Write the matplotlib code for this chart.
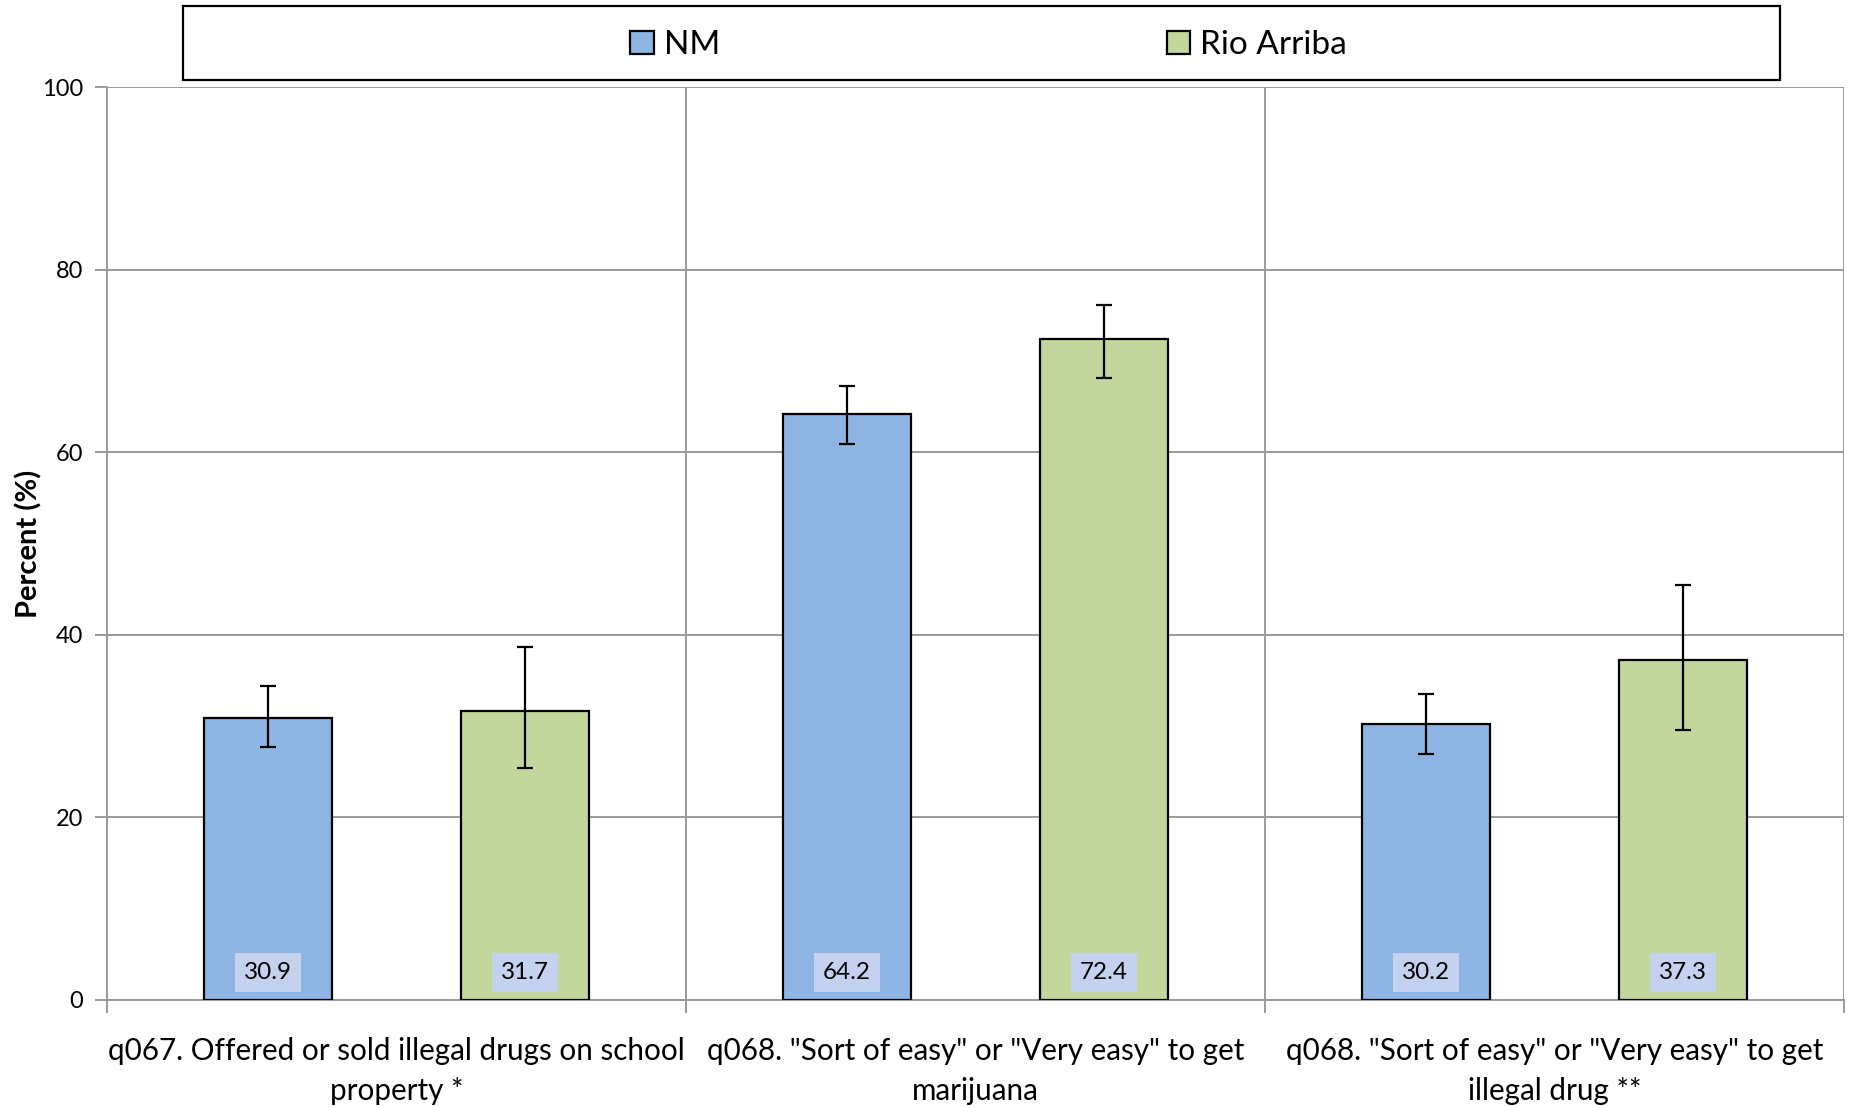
import numpy as np
import matplotlib
matplotlib.use('Agg')
import matplotlib.pyplot as plt
from matplotlib.patches import Rectangle

plt.rcParams['font.family'] = ['Lato', 'DejaVu Sans']

# Chart data
categories = ['q067. Offered or sold illegal drugs on school\nproperty *',
              'q068. "Sort of easy" or "Very easy" to get\nmarijuana',
              'q068. "Sort of easy" or "Very easy" to get\nillegal drug **']
series_names = ['NM', 'Rio Arriba']
nm_values = [30.9, 64.2, 30.2]
nm_low = [27.7, 60.9, 26.9]
nm_high = [34.4, 67.3, 33.5]
ra_values = [31.7, 72.4, 37.3]
ra_low = [25.4, 68.2, 29.6]
ra_high = [38.7, 76.2, 45.5]

colors = ['#8eb4e3', '#c3d69b']
grid_color = '#9a9a9a'

fig = plt.figure(figsize=(18.51, 11.07), dpi=100)
ax = fig.add_axes([0.0578, 0.0967, 0.9384, 0.8243])

x = np.arange(len(categories))
width = 0.222
offset = 0.222

series = [(nm_values, nm_low, nm_high), (ra_values, ra_low, ra_high)]
for i, (vals, lo, hi) in enumerate(series):
    xpos = x + (i * 2 - 1) * offset
    vals = np.array(vals)
    yerr = [vals - np.array(lo), np.array(hi) - vals]
    ax.bar(xpos, vals, width, color=colors[i], edgecolor='black', linewidth=1.6,
           label=series_names[i], zorder=3)
    ax.errorbar(xpos, vals, yerr=yerr, fmt='none', ecolor='black', elinewidth=1.6,
                capsize=6, capthick=1.6, zorder=4)
    for xp, v in zip(xpos, vals):
        ax.text(xp, 3.0, f'{v:.1f}', ha='center', va='center', fontsize=17.5, zorder=5,
                bbox=dict(boxstyle='square,pad=0.38', facecolor='#c4d2ef', edgecolor='none'))

ax.set_xlim(-0.5, len(categories) - 0.5)
ax.set_ylim(0, 100)
ax.set_yticks(range(0, 101, 20))
ax.yaxis.grid(True, color=grid_color, linewidth=1.4, zorder=0)
ax.set_axisbelow(True)

# group separators
ax.set_xticks(np.arange(len(categories) + 1) - 0.5, minor=False)
ax.set_xticklabels([])
ax.xaxis.grid(True, color=grid_color, linewidth=1.4)
ax.set_xticks(x, minor=True)
ax.set_xticklabels(categories, minor=True, fontsize=21.3, linespacing=1.5)
ax.tick_params(axis='x', which='minor', length=0, pad=27)
ax.tick_params(axis='x', which='major', length=9, color=grid_color, width=1.4)
ax.tick_params(axis='y', length=9, color=grid_color, width=1.4, labelsize=17, pad=8)

for s in ['top', 'right']:
    ax.spines[s].set_visible(False)
for s in ['left', 'bottom']:
    ax.spines[s].set_color(grid_color)
    ax.spines[s].set_linewidth(1.4)

ax.set_ylabel('Percent (%)', fontsize=21, fontweight='bold', labelpad=0)

# legend with a wide box
fig.patches.append(Rectangle((0.0989, 0.9277), 0.8628, 0.0669, transform=fig.transFigure,
                             facecolor='white', edgecolor='black', linewidth=1.6))
fig.legend(loc='center', bbox_to_anchor=(0.534, 0.959), ncol=2, frameon=False,
           fontsize=24, handlelength=0.7, handleheight=0.7, handletextpad=0.3,
           columnspacing=13.4)

fig.savefig('out.png', dpi=100)
